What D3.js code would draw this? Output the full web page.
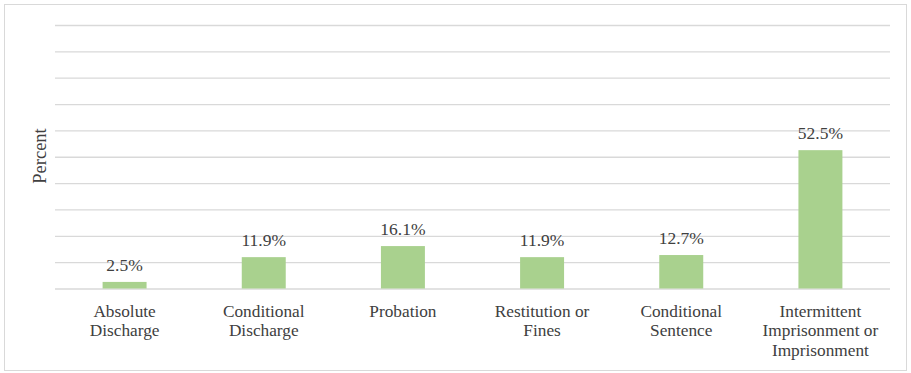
<!DOCTYPE html>
<html>
<head>
<meta charset="utf-8">
<script src="https://cdn.jsdelivr.net/npm/d3@7/dist/d3.min.js"></script>
<style>
  html, body { margin: 0; padding: 0; background: #ffffff; }
  svg { display: block; }
</style>
</head>
<body>
<svg id="chart" width="911" height="373"></svg>
<script>
// Sentence type distribution
const categories = [
  ["Absolute", "Discharge"],
  ["Conditional", "Discharge"],
  ["Probation"],
  ["Restitution or", "Fines"],
  ["Conditional", "Sentence"],
  ["Intermittent", "Imprisonment or", "Imprisonment"]
];
const values = [2.5, 11.9, 16.1, 11.9, 12.7, 52.5];
const gridTicks = [0, 10, 20, 30, 40, 50, 60, 70, 80, 90, 100];
const yTitle = "Percent";

const FONT = "'Liberation Serif', 'DejaVu Serif', serif";
const INK = "#404040";

const svg = d3.select("#chart");
const plot = { left: 55, right: 890, top: 25, bottom: 288.5 };

// outer frame
svg.append("rect")
  .attr("x", 4.5).attr("y", 4.5)
  .attr("width", 902).attr("height", 366)
  .attr("fill", "#ffffff")
  .attr("stroke", "#d9d9d9").attr("stroke-width", 1);

const keys = categories.map((c, i) => i);
const x = d3.scaleBand().domain(keys).range([plot.left, plot.right]).padding(0);
const y = d3.scaleLinear().domain([0, 100]).range([plot.bottom, plot.top]);

// horizontal gridlines
const yAxis = d3.axisLeft(y).tickValues(gridTicks)
  .tickSize(-(plot.right - plot.left)).tickFormat("");
const gy = svg.append("g")
  .attr("transform", `translate(${plot.left},0)`)
  .call(yAxis);
gy.select(".domain").remove();
gy.selectAll(".tick line").attr("stroke", "#d9d9d9").attr("stroke-width", 1.3);

// bars
const barW = x.bandwidth() * 0.316;
svg.append("g").selectAll("rect")
  .data(values)
  .join("rect")
  .attr("x", (d, i) => x(i) + x.bandwidth() / 2 - barW / 2)
  .attr("y", d => y(d))
  .attr("width", barW)
  .attr("height", d => y(0) - y(d))
  .attr("fill", "#a9d18e");

// value labels
svg.append("g").selectAll("text")
  .data(values)
  .join("text")
  .attr("x", (d, i) => x(i) + x.bandwidth() / 2)
  .attr("y", d => y(d) - 11)
  .attr("text-anchor", "middle")
  .attr("font-family", FONT)
  .attr("fill", INK)
  .attr("font-size", 17.5)
  .text(d => d.toFixed(1) + "%");

// category labels
const xl = svg.append("g").selectAll("text")
  .data(categories)
  .join("text")
  .attr("x", (d, i) => x(i) + x.bandwidth() / 2)
  .attr("y", 316.5)
  .attr("text-anchor", "middle")
  .attr("font-family", FONT)
  .attr("fill", INK)
  .attr("font-size", 17.3);
xl.each(function(lines, i) {
  const t = d3.select(this);
  lines.forEach((ln, j) => {
    t.append("tspan")
      .attr("x", x(i) + x.bandwidth() / 2)
      .attr("dy", j === 0 ? 0 : 19.5)
      .text(ln);
  });
});

// y-axis title
svg.append("text")
  .attr("transform", `translate(46,156) rotate(-90)`)
  .attr("text-anchor", "middle")
  .attr("font-family", FONT)
  .attr("fill", INK)
  .attr("font-size", 18.5)
  .text(yTitle);
</script>
</body>
</html>
